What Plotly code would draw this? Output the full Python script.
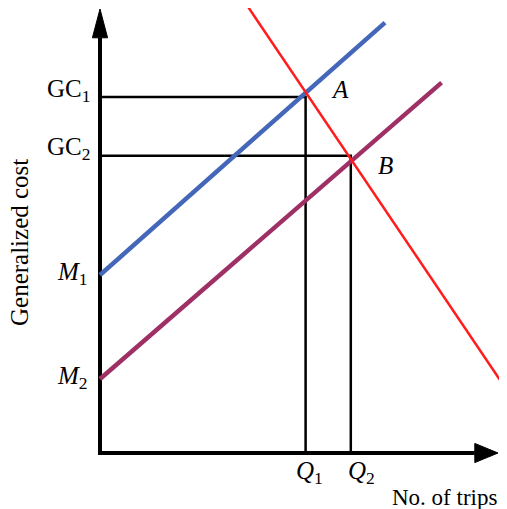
import plotly.graph_objects as go

# Values (arbitrary units, origin at the axes corner)
q_values = [5.14, 6.27]          # Q1, Q2 on the trips axis
gc_values = [8.9, 7.43]          # GC1, GC2 on the cost axis
m_values = [4.45, 1.85]          # M1, M2 intercepts

supply1_x = [0, 7.125]
supply1_y = [4.45, 10.76]
supply2_x = [0, 8.54]
supply2_y = [1.85, 9.26]
demand_x = [3.71, 10.17]
demand_y = [11.14, 1.575]

x_axis_end = 9.95
y_axis_end = 11.1

serif = "Liberation Serif"
black = "#000000"

fig = go.Figure()

# axes (stop short of the tips so the arrowheads stay sharp)
y_head = 0.72
x_head = 0.58
fig.add_trace(go.Scatter(
    x=[0, 0, x_axis_end - x_head], y=[y_axis_end - y_head, 0, 0],
    mode="lines", line=dict(color=black, width=4), hoverinfo="skip"))
fig.add_trace(go.Scatter(
    x=[0, -0.19, 0.19, 0], y=[y_axis_end, y_axis_end - y_head, y_axis_end - y_head, y_axis_end],
    mode="lines", fill="toself", fillcolor=black, line=dict(color=black, width=1), hoverinfo="skip"))
fig.add_trace(go.Scatter(
    x=[x_axis_end, x_axis_end - x_head, x_axis_end - x_head, x_axis_end], y=[0, 0.24, -0.24, 0],
    mode="lines", fill="toself", fillcolor=black, line=dict(color=black, width=1), hoverinfo="skip"))

# guide lines from the equilibrium points
for q, gc in zip(q_values, gc_values):
    fig.add_trace(go.Scatter(
        x=[0, q, q], y=[gc, gc, 0],
        mode="lines", line=dict(color=black, width=2.5), hoverinfo="skip"))

# supply and demand curves
fig.add_trace(go.Scatter(x=supply1_x, y=supply1_y, mode="lines",
                         line=dict(color="#4467b9", width=4.5), hoverinfo="skip"))
fig.add_trace(go.Scatter(x=supply2_x, y=supply2_y, mode="lines",
                         line=dict(color="#9e3066", width=4.5), hoverinfo="skip"))
fig.add_trace(go.Scatter(x=demand_x, y=demand_y, mode="lines",
                         line=dict(color="#ff1c1c", width=2.5), hoverinfo="skip"))

font = dict(family=serif, size=25, color=black)

def label(text, x, y, size=25, **kw):
    fig.add_annotation(text=text, x=x, y=y, showarrow=False,
                       font=dict(family=serif, size=size, color=black), **kw)

label("GC<sub>1</sub>", 0, gc_values[0], xanchor="right", yanchor="middle", xshift=-8, yshift=7)
label("GC<sub>2</sub>", 0, gc_values[1], xanchor="right", yanchor="middle", xshift=-8, yshift=7)
label("<i>M</i><sub>1</sub>", 0, m_values[0], xanchor="right", yanchor="middle", xshift=-10, yshift=2)
label("<i>M</i><sub>2</sub>", 0, m_values[1], xanchor="right", yanchor="middle", xshift=-10, yshift=2)
label("<i>Q</i><sub>1</sub>", q_values[0], 0, xanchor="center", yanchor="top", xshift=4, yshift=-2)
label("<i>Q</i><sub>2</sub>", q_values[1], 0, xanchor="center", yanchor="top", xshift=11, yshift=-2)
label("<i>A</i>", q_values[0], gc_values[0], xanchor="center", yanchor="middle", xshift=34, yshift=8)
label("<i>B</i>", q_values[1], gc_values[1], xanchor="center", yanchor="middle", xshift=35, yshift=-10)
label("No. of trips", x_axis_end, 0, size=23, xanchor="right", yanchor="top", xshift=1, yshift=-30)
label("Generalized cost", 0, 5.25, xanchor="center", yanchor="middle", xshift=-81, textangle=-90)

# the page body adds an 8px offset, so the ranges are shifted to compensate
fig.update_layout(
    width=507, height=509,
    margin=dict(l=0, r=0, t=0, b=0),
    paper_bgcolor="white", plot_bgcolor="white",
    showlegend=False,
    xaxis=dict(range=[-2.3, 10.375], visible=False, fixedrange=True),
    yaxis=dict(range=[-1.6, 11.125], visible=False, fixedrange=True),
)

fig.write_html("out.html")
